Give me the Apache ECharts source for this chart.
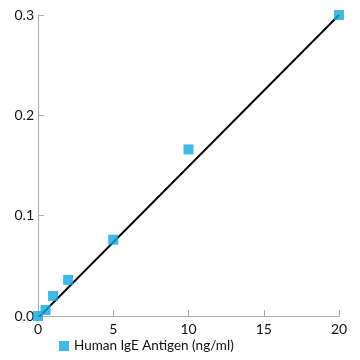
<!DOCTYPE html>
<html><head><meta charset="utf-8">
<script src="https://cdn.jsdelivr.net/npm/echarts@6/dist/echarts.min.js"></script>
<style>html,body{margin:0;padding:0;background:#fff}#c{width:360px;height:360px}</style>
</head><body><div id="c"></div>
<script>
const concentrations = [0, 0.5, 1, 2, 5, 10, 20];
const absorbance = [0, 0.006, 0.02, 0.036, 0.076, 0.166, 0.3];
const fitX = [0, 20];
const fitY = [-0.002, 0.3];
const seriesName = 'Human IgE Antigen (ng/ml)';

const chart = echarts.init(document.getElementById('c'));
chart.setOption({
  animation: false,
  grid: { left: 38, right: 21, top: 15, bottom: 44 },
  xAxis: {
    type: 'value', min: 0, max: 20, interval: 5,
    axisLine: { lineStyle: { color: '#aaaaaa' } },
    axisTick: { show: true, inside: true, length: 6, lineStyle: { color: '#aaaaaa' } },
    splitLine: { show: false },
    axisLabel: { color: '#111', fontFamily: 'Lato', fontSize: 14, margin: 6 }
  },
  yAxis: {
    type: 'value', min: 0, max: 0.3, interval: 0.1,
    axisLine: { show: true, lineStyle: { color: '#aaaaaa' } },
    axisTick: { show: true, inside: true, length: 6, lineStyle: { color: '#aaaaaa' } },
    splitLine: { show: false },
    axisLabel: { color: '#111', fontFamily: 'Lato', fontSize: 14, margin: 4, formatter: v => v.toFixed(1) }
  },
  legend: {
    data: [{ name: seriesName, icon: 'rect' }],
    left: 54, bottom: 2, itemWidth: 10, itemHeight: 10, itemGap: 6,
    textStyle: { color: '#111', fontFamily: 'Lato', fontSize: 13.5 }
  },
  series: [
    {
      type: 'line', data: fitX.map((x, i) => [x, fitY[i]]),
      showSymbol: false, symbol: 'none', lineStyle: { color: '#000', width: 2 },
      silent: true, z: 1
    },
    {
      name: seriesName, type: 'scatter',
      data: concentrations.map((x, i) => [x, absorbance[i]]),
      symbol: 'rect', symbolSize: 10,
      itemStyle: { color: '#13a6e0' }, z: 2
    }
  ]
});
</script></body></html>
